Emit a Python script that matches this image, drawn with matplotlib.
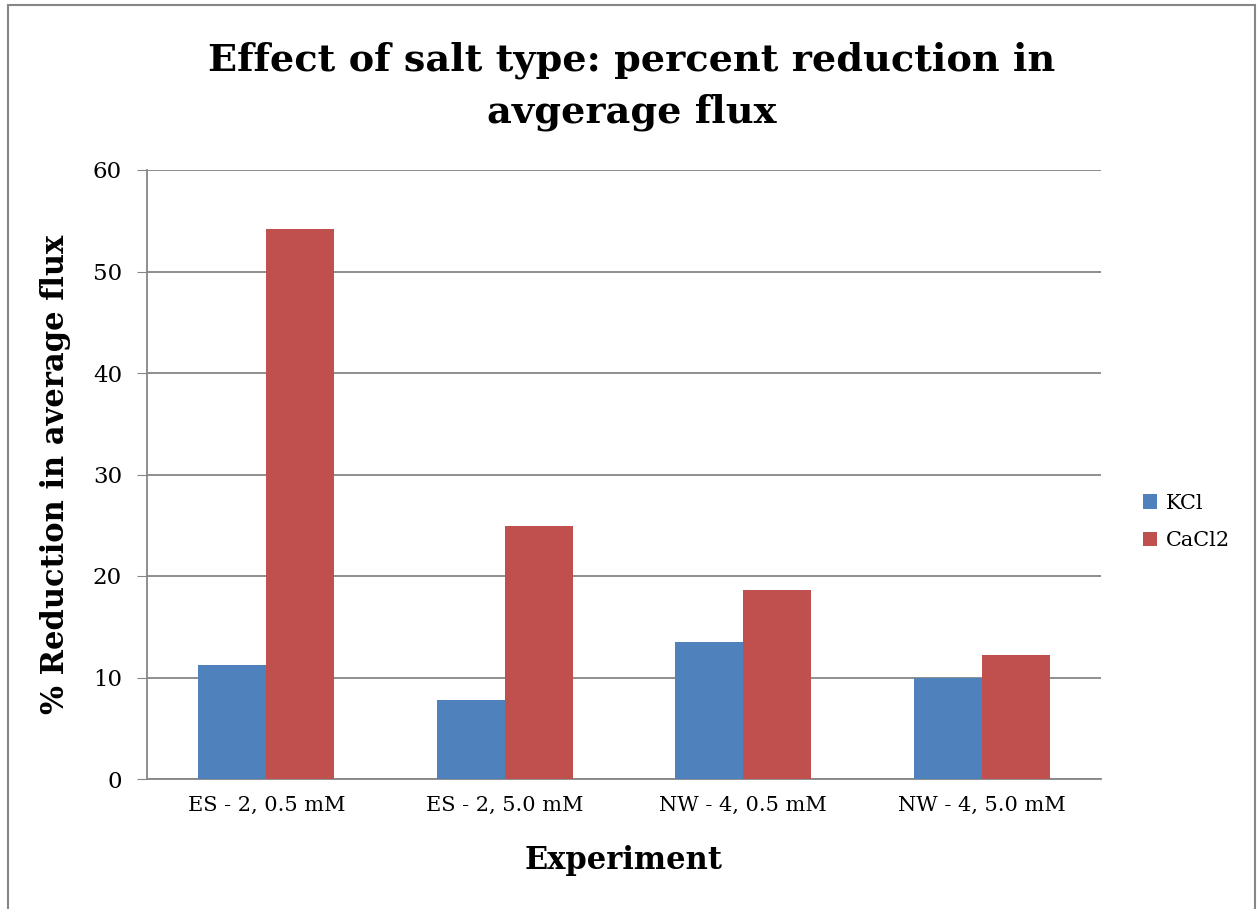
import numpy as np
import matplotlib.pyplot as plt
from matplotlib.patches import Rectangle

categories = ["ES - 2, 0.5 mM", "ES - 2, 5.0 mM", "NW - 4, 0.5 mM", "NW - 4, 5.0 mM"]
kcl = [11.2, 7.8, 13.5, 10.0]
cacl2 = [54.2, 24.9, 18.6, 12.2]
series_names = ["KCl", "CaCl2"]

plt.rcParams['font.family'] = ['DejaVu Serif']

fig = plt.figure(figsize=(12.59, 9.09), dpi=100)
W, H = 1259, 909
ax = fig.add_axes([147 / W, 1 - 779 / H, (1101 - 147) / W, (779 - 170) / H])

x = np.arange(len(categories))
bw = 0.285
b1 = ax.bar(x - bw / 2, kcl, bw, color="#4F81BD", label=series_names[0], zorder=3)
b2 = ax.bar(x + bw / 2, cacl2, bw, color="#C0504D", label=series_names[1], zorder=3)

ax.set_xlim(-0.5, len(categories) - 0.5)
ax.set_ylim(0, 60)
ax.set_yticks(range(0, 61, 10))
ax.set_xticks(x)
ax.set_xticklabels(categories, fontsize=15)
ax.tick_params(axis='y', labelsize=16.5, length=7, color="#868686", pad=11)
ax.tick_params(axis='x', length=0, pad=12)
ax.grid(axis='y', color="#868686", linewidth=1.3, zorder=0)
for s in ['top', 'right']:
    ax.spines[s].set_visible(False)
for s in ['left', 'bottom']:
    ax.spines[s].set_color("#868686")
    ax.spines[s].set_linewidth(1.3)

ax.set_xlabel("Experiment", fontsize=22, fontweight='bold', labelpad=22)
ax.set_ylabel("% Reduction in average flux", fontsize=22, fontweight='bold', labelpad=16)

fig.text(632 / W, 1 - 86 / H, "Effect of salt type: percent reduction in\navgerage flux",
         ha='center', va='center', fontsize=27.5, fontweight='bold', linespacing=1.5)

leg = fig.legend(handles=[b1, b2], loc='center left', bbox_to_anchor=(1124 / W, 1 - 522 / H),
                 frameon=False, fontsize=15, handlelength=0.7, handleheight=0.7,
                 handletextpad=0.4, labelspacing=0.9)

# chart-area border
fig.add_artist(Rectangle((8 / W, -0.05), (1255 - 8) / W, 1.05 - 5 / H, transform=fig.transFigure,
                         fill=False, edgecolor="#868686", linewidth=1.5))

fig.savefig("out.png", dpi=100)
